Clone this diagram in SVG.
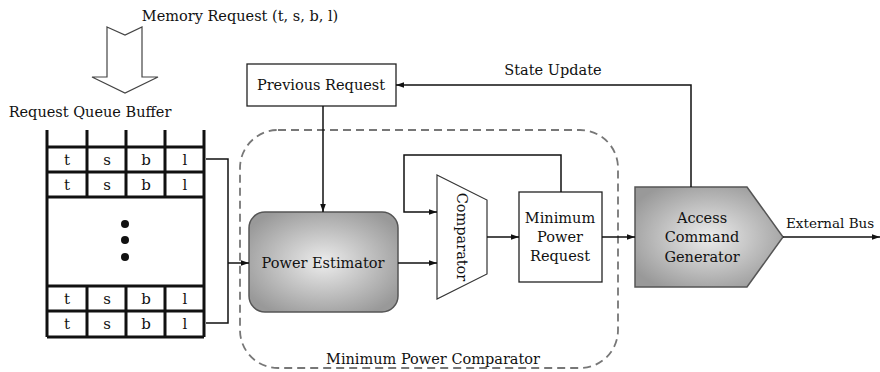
<svg xmlns="http://www.w3.org/2000/svg" width="880" height="372" viewBox="0 0 880 372">
  <style>
    text { font-family: "DejaVu Serif", "Liberation Serif", serif; font-size: 14.5px; fill: #111; }
    .mid { text-anchor: middle; }
    .cell { font-size: 15px; text-anchor: middle; }
    .box { fill: #fff; stroke: #222; stroke-width: 1.3; }
    .shaded { stroke: #555; stroke-width: 1.5; }
    .wire { fill: none; stroke: #111; stroke-width: 1.5; }
    .grid { fill: none; stroke: #111; stroke-width: 3; }
  </style>
  <defs>
    <marker id="arrow" viewBox="0 0 10 10" refX="10" refY="5" markerWidth="8" markerHeight="8" markerUnits="userSpaceOnUse" orient="auto">
      <path d="M0,1.5 L10,5 L0,8.5 Z" fill="#111"/>
    </marker>
    <radialGradient id="shade" cx="50%" cy="50%" r="60%">
      <stop offset="0" stop-color="#ececec"/>
      <stop offset="1" stop-color="#999"/>
    </radialGradient>
  </defs>

  <!-- incoming request label and block arrow -->
  <g id="memory-request">
    <text x="240" y="21" class="mid">Memory Request (t, s, b, l)</text>
    <path d="M107,27 L125,35 L142,27 L142,77 L158,77 L125,93 L92,77 L107,77 Z" fill="#fff" stroke="#444" stroke-width="1.2"/>
  </g>

  <!-- request queue buffer -->
  <g id="request-queue">
    <text x="90" y="117" class="mid">Request Queue Buffer</text>
    <rect x="47" y="197" width="157" height="89" fill="#fff"/>
    <path class="grid" d="M47,130 V337 M204,130 V337 M87,130 V197 M126,130 V197 M165,130 V197 M87,286 V337 M126,286 V337 M165,286 V337 M47,147 H204 M47,172 H204 M47,197 H204 M47,286 H204 M47,311 H204 M47,337 H204"/>
    <g class="cell-text">
      <text x="67" y="165" class="cell">t</text><text x="107" y="165" class="cell">s</text><text x="146" y="165" class="cell">b</text><text x="185" y="165" class="cell">l</text>
      <text x="67" y="190" class="cell">t</text><text x="107" y="190" class="cell">s</text><text x="146" y="190" class="cell">b</text><text x="185" y="190" class="cell">l</text>
      <text x="67" y="304" class="cell">t</text><text x="107" y="304" class="cell">s</text><text x="146" y="304" class="cell">b</text><text x="185" y="304" class="cell">l</text>
      <text x="67" y="329" class="cell">t</text><text x="107" y="329" class="cell">s</text><text x="146" y="329" class="cell">b</text><text x="185" y="329" class="cell">l</text>
    </g>
    <circle cx="125" cy="224" r="4" fill="#111"/>
    <circle cx="125" cy="240" r="4" fill="#111"/>
    <circle cx="125" cy="257" r="4" fill="#111"/>
  </g>

  <!-- minimum power comparator group -->
  <g id="min-power-comparator">
    <rect x="240" y="130" width="378" height="238" rx="38" ry="38" fill="none" stroke="#777" stroke-width="1.8" stroke-dasharray="8,5"/>
    <text x="433" y="364" class="mid">Minimum Power Comparator</text>
  </g>

  <g id="previous-request">
    <rect class="box" x="247" y="64" width="149" height="42"/>
    <text x="321" y="90" class="mid">Previous Request</text>
  </g>

  <g id="power-estimator">
    <rect class="shaded" x="249" y="212" width="149" height="100" rx="16" ry="16" fill="url(#shade)"/>
    <text x="323" y="268" class="mid">Power Estimator</text>
  </g>

  <g id="comparator">
    <path d="M437,175 L487,200 L487,274 L437,299 Z" fill="#fff" stroke="#333" stroke-width="1.2"/>
    <text x="0" y="0" class="mid" transform="translate(457,237) rotate(90)">Comparator</text>
  </g>

  <g id="minimum-power-request">
    <rect class="box" x="519" y="192" width="83" height="90"/>
    <text x="560" y="223" class="mid">Minimum</text>
    <text x="560" y="242" class="mid">Power</text>
    <text x="560" y="261" class="mid">Request</text>
  </g>

  <g id="access-command-generator">
    <path class="shaded" d="M635,187 L747,187 L783,237 L747,287 L635,287 Z" fill="url(#shade)"/>
    <text x="702" y="223" class="mid">Access</text>
    <text x="702" y="242" class="mid">Command</text>
    <text x="702" y="262" class="mid">Generator</text>
  </g>

  <!-- connectors -->
  <g id="connectors">
    <path class="wire" d="M206,159 H228 V323 H206"/>
    <path class="wire" d="M228,263 H249" marker-end="url(#arrow)"/>
    <path class="wire" d="M323,106 V212" marker-end="url(#arrow)"/>
    <path class="wire" d="M398,263 H437" marker-end="url(#arrow)"/>
    <path class="wire" d="M561,192 V155 H404 V212 H437" marker-end="url(#arrow)"/>
    <path class="wire" d="M487,237 H519" marker-end="url(#arrow)"/>
    <path class="wire" d="M602,237 H635" marker-end="url(#arrow)"/>
    <path class="wire" d="M691,187 V85 H396" marker-end="url(#arrow)"/>
    <path class="wire" d="M783,237 H880" marker-end="url(#arrow)"/>
    <text x="553" y="75" class="mid">State Update</text>
    <text x="786" y="228" style="font-size:13.5px">External Bus</text>
  </g>
</svg>
